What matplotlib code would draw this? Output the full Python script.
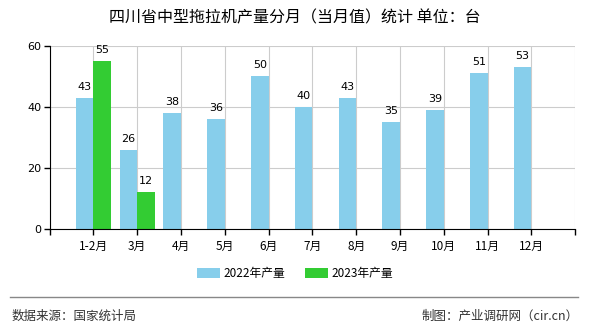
import matplotlib
matplotlib.use("Agg")
import matplotlib.pyplot as plt
import numpy as np

plt.rcParams['font.family'] = ['Noto Sans CJK SC', 'DejaVu Sans']

categories = ["1-2月", "3月", "4月", "5月", "6月", "7月", "8月", "9月", "10月", "11月", "12月"]
v2022 = [43, 26, 38, 36, 50, 40, 43, 35, 39, 51, 53]
v2023 = [55, 12]
series_names = ["2022年产量", "2023年产量"]
yticks = [0, 20, 40, 60]

c1 = "#87CEEB"
c2 = "#33CC33"

fig = plt.figure(figsize=(5.9, 3.3), dpi=100)
ax = fig.add_axes([0.084, 0.306, 0.891, 0.555])

x = np.arange(len(categories))
w = 0.4
b1 = ax.bar(x - w/2, v2022, width=w, color=c1, label=series_names[0], zorder=3)
x2 = np.arange(len(v2023))
b2 = ax.bar(x2 + w/2, v2023, width=w, color=c2, label=series_names[1], zorder=3)

for xi, v in zip(x - w/2, v2022):
    ax.text(xi, v + 2, str(v), ha='center', va='bottom', fontsize=8, color='black', family='DejaVu Sans')
for xi, v in zip(x2 + w/2, v2023):
    ax.text(xi, v + 2, str(v), ha='center', va='bottom', fontsize=8, color='black', family='DejaVu Sans')

ax.set_xlim(-1, 11)
ax.set_ylim(0, 60)
ax.set_yticks(yticks)
ax.set_yticklabels([str(t) for t in yticks], fontsize=8, family='DejaVu Sans')
ax.set_xticks(np.arange(-1, 12))
ax.set_xticklabels([""] + categories + [""], fontsize=8.5)
ax.tick_params(axis='both', length=4, width=1, color='black', pad=2)
ax.tick_params(axis='x', pad=4)

ax.grid(True, color='#CCCCCC', linewidth=0.8, zorder=0)
for s in ['top', 'right']:
    ax.spines[s].set_visible(False)
ax.spines['left'].set_color('black')
ax.spines['bottom'].set_color('black')
ax.spines['left'].set_zorder(4)
ax.spines['bottom'].set_zorder(4)

fig.text(0.5, 0.945, "四川省中型拖拉机产量分月（当月值）统计 单位：台", ha='center', va='center', fontsize=11.5, color='black')

leg = fig.legend(handles=[b1, b2], labels=series_names, loc='center', bbox_to_anchor=(0.5, 0.17),
                 ncol=2, frameon=False, fontsize=8.5, handlelength=2.0, handleheight=0.9,
                 columnspacing=1.6, handletextpad=0.3)

fig.add_artist(plt.Line2D([0.017, 0.98], [0.1, 0.1], color='#888888', linewidth=1, transform=fig.transFigure))
fig.text(0.02, 0.042, "数据来源：国家统计局", ha='left', va='center', fontsize=9, color='#333333')
fig.text(0.98, 0.042, "制图：产业调研网（cir.cn）", ha='right', va='center', fontsize=9, color='#333333')

fig.savefig("out.png", dpi=100)
